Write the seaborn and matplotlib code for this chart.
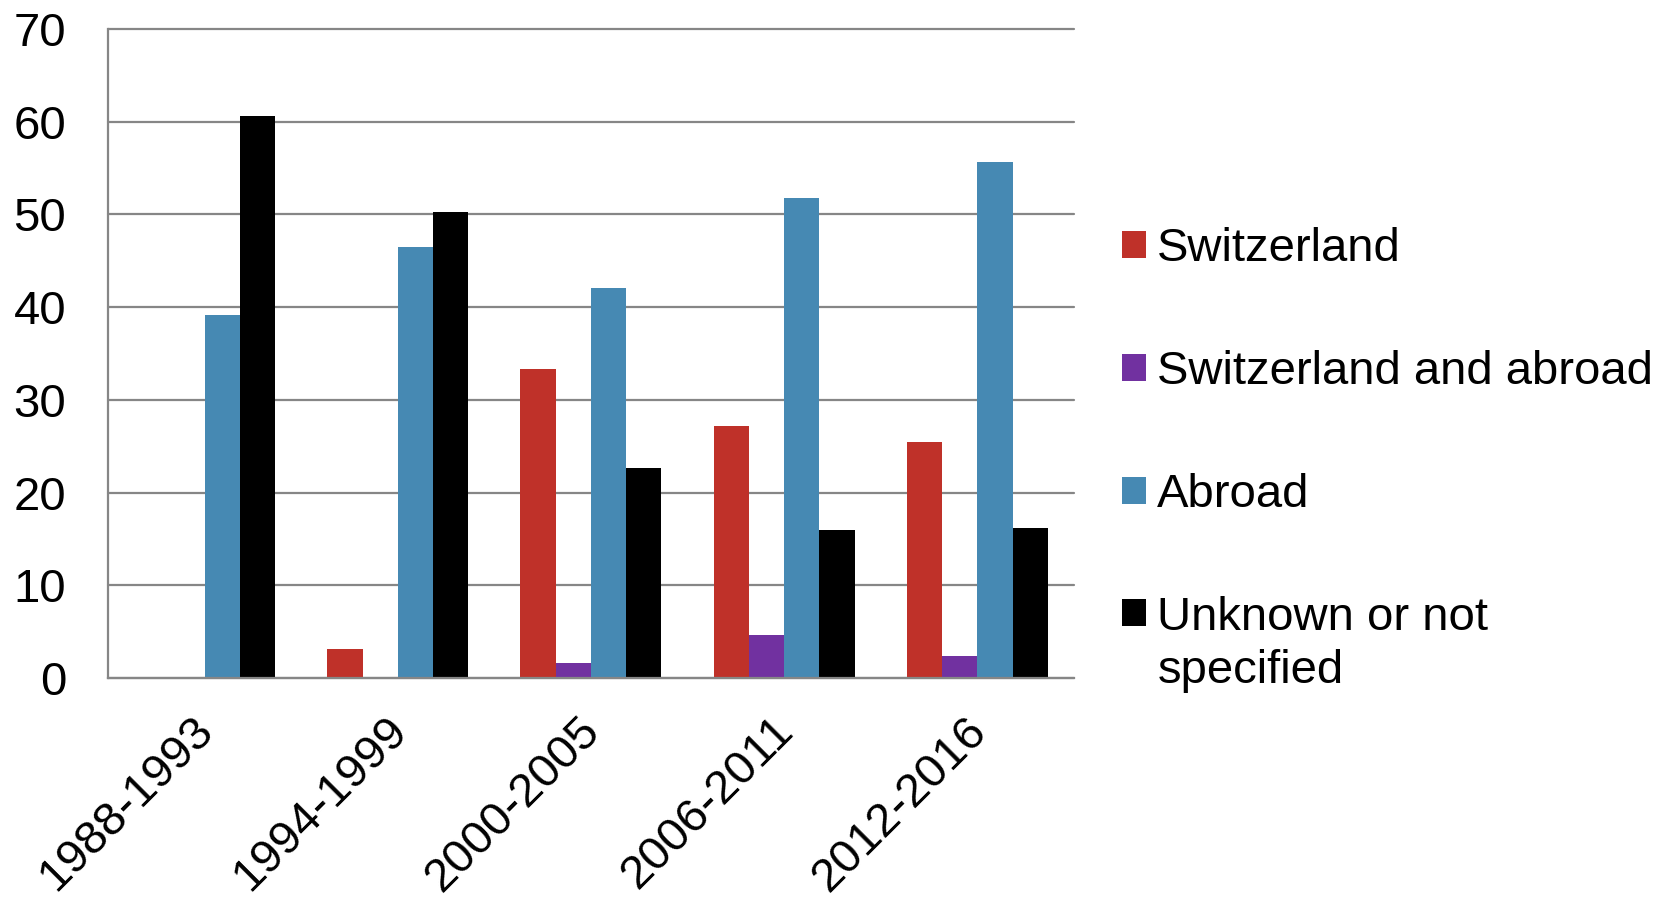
import numpy as np
import pandas as pd
import seaborn as sns
import matplotlib.pyplot as plt
from matplotlib.transforms import ScaledTranslation

periods = ["1988-1993", "1994-1999", "2000-2005", "2006-2011", "2012-2016"]
switzerland = [0, 3.1, 33.3, 27.2, 25.5]
switz_and_abroad = [0, 0, 1.65, 4.65, 2.35]
abroad = [39.2, 46.5, 42.1, 51.8, 55.7]
unknown = [60.6, 50.3, 22.7, 16.0, 16.2]

series = ["Switzerland", "Switzerland and abroad", "Abroad", "Unknown or not\nspecified"]
colors = ["#BF3129", "#7131A0", "#4689B3", "#000000"]

rows = []
for name, vals in zip(series, [switzerland, switz_and_abroad, abroad, unknown]):
    for p, v in zip(periods, vals):
        rows.append({"period": p, "series": name, "value": v})
df = pd.DataFrame(rows)

sns.set_style("white")
plt.rcParams['font.family'] = ['Liberation Sans', 'DejaVu Sans']
plt.rcParams['text.color'] = 'black'
fs = 34
grey = "#868686"

fig = plt.figure(figsize=(16.77, 8.99), dpi=100)
ax = fig.add_axes([0.0644, 0.2458, 0.576, 0.7219])

sns.barplot(data=df, x="period", y="value", hue="series", hue_order=series,
            order=periods, palette=colors, width=0.73, gap=0, errorbar=None,
            linewidth=0, saturation=1, ax=ax)

ax.set_ylim(0, 70)
ax.set_xlim(-0.5, 4.5)
ax.set_yticks(range(0, 71, 10))
ax.yaxis.grid(True, color=grey, lw=1.6)
ax.set_axisbelow(True)
for l in ax.get_ygridlines():
    l.set_clip_on(False)
for s in ["top", "right"]:
    ax.spines[s].set_visible(False)
for s in ["left", "bottom"]:
    ax.spines[s].set_color(grey)
    ax.spines[s].set_linewidth(1.6)

ax.set_xlabel("")
ax.set_ylabel("")
ax.tick_params(axis="y", length=10, width=1.6, color=grey, pad=20,
               labelsize=fs, labelcolor="black")
ax.set_xticks(np.arange(-0.5, 5, 1), minor=True)
ax.tick_params(axis="x", which="minor", length=10, width=1.6, color=grey)
ax.tick_params(axis="x", which="major", length=0, pad=22, labelsize=fs,
               labelcolor="black")
shift = ScaledTranslation(0.18, 0, fig.dpi_scale_trans)
for lab in ax.get_xticklabels():
    lab.set_rotation(45)
    lab.set_ha("right")
    lab.set_transform(lab.get_transform() + shift)

handles, labels = ax.get_legend_handles_labels()
ax.get_legend().remove()
leg = fig.legend(handles, labels, loc="center left", bbox_to_anchor=(0.669, 0.488),
                 frameon=False, fontsize=fs, handlelength=0.5, handleheight=0.5,
                 handletextpad=0.25, labelspacing=1.67, borderpad=0, borderaxespad=0)
leg.texts[3].set_linespacing(1.28)
# put the last marker next to the first line of the two-line label
h = leg.legend_handles[3]
h.set_y(h.get_y() + 0.68 * fs)

fig.savefig("out.png", dpi=100)
